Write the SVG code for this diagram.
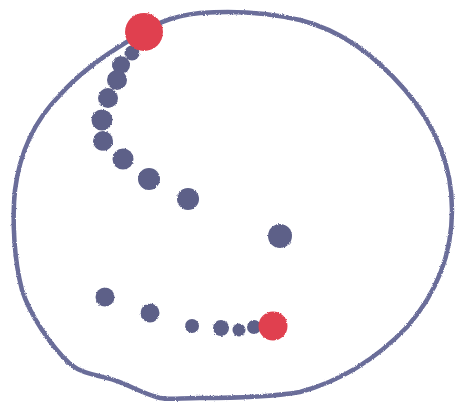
<svg xmlns="http://www.w3.org/2000/svg" width="457" height="406" viewBox="0 0 457 406">
  <defs>
    <filter id="rough" x="-20%" y="-20%" width="140%" height="140%">
      <feTurbulence type="fractalNoise" baseFrequency="0.9" numOctaves="2" seed="3" result="n"/>
      <feDisplacementMap in="SourceGraphic" in2="n" scale="2.5" xChannelSelector="R" yChannelSelector="G" result="d"/>
      <feGaussianBlur in="d" stdDeviation="0.6"/>
    </filter>
  </defs>
  <style>
    .outline { fill: none; stroke: #6a6d99; stroke-width: 4.5; stroke-linecap: round; stroke-linejoin: round; }
    .dot { fill: #5d6088; }
    .red { fill: #e0414f; }
  </style>
  <rect width="457" height="406" fill="#ffffff"/>
  <g id="outline" filter="url(#rough)">
    <path class="outline" d="M130,40 C150,26 170,16 200,13 C240,10 270,13 300,20 C340,30 375,55 405,90 C435,125 452,165 452,210 C452,255 435,295 407,327 C380,355 345,380 300,392 C270,397 230,398 200,398 C180,398 170,400 160,398 C140,393 125,382 107,378 C90,374 80,372 70,364 C50,345 30,315 22,290 C14,260 12,220 15,190 C20,150 35,120 60,95 C80,72 105,55 130,40 Z"/>
  </g>
  <g id="dots-upper" filter="url(#rough)">
    <circle class="dot" cx="132" cy="53" r="7.5"/>
    <circle class="dot" cx="121" cy="65" r="9"/>
    <circle class="dot" cx="117" cy="80" r="10"/>
    <circle class="dot" cx="108" cy="98" r="10"/>
    <circle class="dot" cx="102" cy="120" r="10.5"/>
    <circle class="dot" cx="103" cy="141" r="10"/>
    <circle class="dot" cx="123" cy="159" r="10.5"/>
    <circle class="dot" cx="149" cy="179" r="11"/>
    <circle class="dot" cx="188" cy="199" r="11"/>
    <circle class="dot" cx="280" cy="236" r="12"/>
  </g>
  <g id="dots-lower" filter="url(#rough)">
    <circle class="dot" cx="105" cy="297" r="9.5"/>
    <circle class="dot" cx="150" cy="313" r="9.5"/>
    <circle class="dot" cx="192" cy="326" r="7"/>
    <circle class="dot" cx="221" cy="328" r="8"/>
    <circle class="dot" cx="239" cy="330" r="6.5"/>
    <circle class="dot" cx="254" cy="327" r="7"/>
  </g>
  <g id="red-top" filter="url(#rough)">
    <circle class="red" cx="144" cy="32" r="19"/>
  </g>
  <g id="red-bottom" filter="url(#rough)">
    <circle class="red" cx="273" cy="326" r="14.5"/>
  </g>
</svg>
